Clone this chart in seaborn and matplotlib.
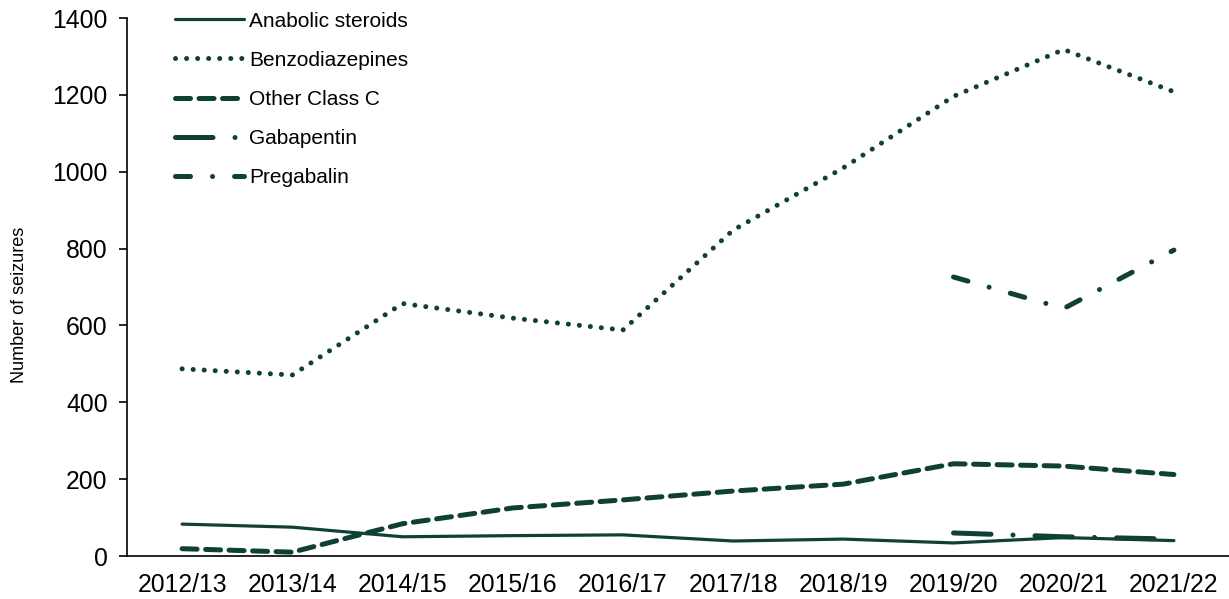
import numpy as np
import pandas as pd
import seaborn as sns
import matplotlib.pyplot as plt

years = ['2012/13', '2013/14', '2014/15', '2015/16', '2016/17',
         '2017/18', '2018/19', '2019/20', '2020/21', '2021/22']

anabolic = [83, 75, 50, 53, 55, 39, 44, 34, 48, 40]
benzo = [487, 471, 657, 619, 588, 848, 1010, 1196, 1318, 1208]
other_c = [19, 10, 84, 125, 146, 169, 187, 240, 234, 212]
gaba_years = ['2019/20', '2020/21', '2021/22']
gaba = [60, 50, 44]
prega_years = ['2019/20', '2020/21', '2021/22']
prega = [726, 644, 796]

col = '#0f4036'

sns.set_style('white')
plt.rcParams['font.family'] = ['Liberation Sans', 'DejaVu Sans']
plt.rcParams['lines.dash_capstyle'] = 'round'
plt.rcParams['lines.solid_capstyle'] = 'round'
plt.rcParams['text.color'] = 'black'
plt.rcParams['axes.labelcolor'] = 'black'
plt.rcParams['xtick.color'] = 'black'
plt.rcParams['ytick.color'] = 'black'

fig = plt.figure(figsize=(12.29, 5.99), dpi=100)
ax = fig.add_axes([127 / 1229, 1 - 556 / 599, 1 - 127 / 1229, 538 / 599])

series = [
    ('Anabolic steroids', years, anabolic, 2.3, '-'),
    ('Benzodiazepines', years, benzo, 3.6, (0, (0.01, 2.2))),
    ('Other Class C', years, other_c, 3.6, (0, (3.0, 1.7))),
    ('Gabapentin', gaba_years, gaba, 3.6, (0, (7.5, 4.4, 0.01, 4.4))),
    ('Pregabalin', prega_years, prega, 3.6, (0, (3.0, 4.4, 0.01, 4.4))),
]

for name, yrs, vals, lw, ls in series:
    df = pd.DataFrame({'pos': [years.index(y) for y in yrs], 'n': vals})
    sns.lineplot(data=df, x='pos', y='n', ax=ax, color=col, lw=lw,
                 linestyle=ls, label=name)

ax.set_xlim(-0.5, len(years) - 0.5)
ax.set_ylim(0, 1400)
ax.set_yticks(np.arange(0, 1401, 200))
ax.set_xticks(np.arange(len(years)))
ax.set_xticklabels(years)
ax.set_xticks(np.arange(-0.5, len(years)), minor=True)
ax.tick_params(axis='x', which='major', length=0, labelsize=17.8, pad=12)
ax.tick_params(axis='x', which='minor', length=7, width=1.2, color='black', direction='out')
ax.tick_params(axis='y', length=6, width=1.2, color='black', direction='out',
               labelsize=17.8, pad=8, left=True)
ax.set_xlabel('')
ax.set_ylabel('Number of seizures', fontsize=13)
ax.yaxis.set_label_coords(-0.0898, 0.467)

for s in ['top', 'right']:
    ax.spines[s].set_visible(False)
for s in ['left', 'bottom']:
    ax.spines[s].set_color('black')
    ax.spines[s].set_linewidth(1.2)

ax.legend(loc='upper left', bbox_to_anchor=(0.044, 1.012), frameon=False,
          fontsize=15, handlelength=3.3, handletextpad=0.25, labelspacing=0.97,
          borderpad=0, borderaxespad=0)

fig.savefig('out.png', dpi=100)
